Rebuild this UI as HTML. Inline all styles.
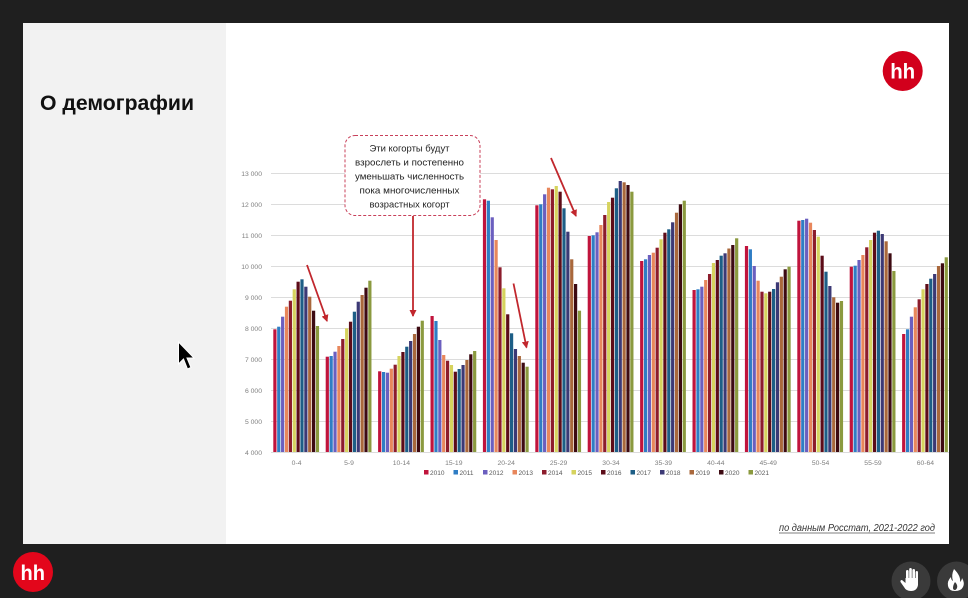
<!DOCTYPE html>
<html><head><meta charset="utf-8">
<style>
html,body{margin:0;padding:0;background:#1f1f1f;}
body{width:968px;height:598px;overflow:hidden;position:relative;font-family:"Liberation Sans","Noto Sans CJK SC",sans-serif;}
svg{position:absolute;left:0;top:0;}
.c0{fill:#c0143c}.c1{fill:#2f7dc4}.c2{fill:#6b5fbf}.c3{fill:#e8875c}.c4{fill:#8c1c2c}.c5{fill:#d6d35e}
.c6{fill:#5c0c18}.c7{fill:#1d5e86}.c8{fill:#3c3975}.c9{fill:#a9683c}.c10{fill:#3d0a12}.c11{fill:#8b9a3f}
.yl{font-size:6.8px;fill:#7f7f7f;text-anchor:end;font-family:"Liberation Sans",sans-serif}
.xl{font-size:6.8px;fill:#7f7f7f;text-anchor:middle;font-family:"Liberation Sans",sans-serif}
.lg{font-size:6.5px;fill:#595959;font-family:"Liberation Sans",sans-serif}
.co{font-size:9.5px;fill:#222;text-anchor:middle;font-family:"Liberation Sans",sans-serif}
</style></head>
<body>
<svg width="968" height="598" viewBox="0 0 968 598" xmlns="http://www.w3.org/2000/svg">
<defs>
<marker id="ah" markerWidth="7" markerHeight="7" refX="6" refY="3.5" orient="auto" markerUnits="userSpaceOnUse"><path d="M0,0 L7,3.5 L0,7 z" fill="#c1272d"/></marker>
<clipPath id="slide"><rect x="23" y="23" width="926" height="521"/></clipPath>
</defs>
<rect x="0" y="0" width="968" height="598" fill="#1f1f1f"/>
<rect x="23" y="23" width="926" height="521" fill="#ffffff"/>
<rect x="23" y="23" width="203" height="521" fill="#f2f2f2"/>

<text x="40" y="110" font-family="Liberation Sans,sans-serif" font-weight="bold" font-size="21" fill="#111" textLength="154" lengthAdjust="spacingAndGlyphs">О демографии</text>

<!-- gridlines -->
<g stroke="#dcdcdc" stroke-width="1">
<line x1="271" y1="173.5" x2="949" y2="173.5"/>
<line x1="271" y1="204.5" x2="949" y2="204.5"/>
<line x1="271" y1="235.5" x2="949" y2="235.5"/>
<line x1="271" y1="266.5" x2="949" y2="266.5"/>
<line x1="271" y1="297.5" x2="949" y2="297.5"/>
<line x1="271" y1="328.5" x2="949" y2="328.5"/>
<line x1="271" y1="359.5" x2="949" y2="359.5"/>
<line x1="271" y1="390.5" x2="949" y2="390.5"/>
<line x1="271" y1="421.5" x2="949" y2="421.5"/>
<line x1="271" y1="452.5" x2="949" y2="452.5"/>
</g>
<g>
<text class="yl" x="262" y="176">13 000</text>
<text class="yl" x="262" y="207">12 000</text>
<text class="yl" x="262" y="238">11 000</text>
<text class="yl" x="262" y="269">10 000</text>
<text class="yl" x="262" y="300">9 000</text>
<text class="yl" x="262" y="331">8 000</text>
<text class="yl" x="262" y="362">7 000</text>
<text class="yl" x="262" y="393">6 000</text>
<text class="yl" x="262" y="424">5 000</text>
<text class="yl" x="262" y="455">4 000</text>
</g>

<!-- bars -->
<g clip-path="url(#slide)">
<g transform="translate(0,452) scale(1,-1)">
<g transform="translate(273.3,0)">
<rect class="c0" x="0" y="0" width="3.2" height="122.7"/><rect class="c1" x="3.87" y="0" width="3.2" height="125.3"/><rect class="c2" x="7.74" y="0" width="3.2" height="135.3"/><rect class="c3" x="11.61" y="0" width="3.2" height="145.3"/><rect class="c4" x="15.48" y="0" width="3.2" height="151.3"/><rect class="c5" x="19.35" y="0" width="3.2" height="162.7"/><rect class="c6" x="23.22" y="0" width="3.2" height="170.3"/><rect class="c7" x="27.09" y="0" width="3.2" height="172.7"/><rect class="c8" x="30.96" y="0" width="3.2" height="165.3"/><rect class="c9" x="34.83" y="0" width="3.2" height="155.3"/><rect class="c10" x="38.7" y="0" width="3.2" height="141.3"/><rect class="c11" x="42.57" y="0" width="3.2" height="126"/>
</g>
<g transform="translate(325.7,0)">
<rect class="c0" x="0" y="0" width="3.2" height="95.3"/><rect class="c1" x="3.87" y="0" width="3.2" height="96"/><rect class="c2" x="7.74" y="0" width="3.2" height="100.3"/><rect class="c3" x="11.61" y="0" width="3.2" height="106"/><rect class="c4" x="15.48" y="0" width="3.2" height="113"/><rect class="c5" x="19.35" y="0" width="3.2" height="123.7"/><rect class="c6" x="23.22" y="0" width="3.2" height="130.3"/><rect class="c7" x="27.09" y="0" width="3.2" height="140.3"/><rect class="c8" x="30.96" y="0" width="3.2" height="150.3"/><rect class="c9" x="34.83" y="0" width="3.2" height="157"/><rect class="c10" x="38.7" y="0" width="3.2" height="164.3"/><rect class="c11" x="42.57" y="0" width="3.2" height="171.3"/>
</g>
<g transform="translate(378.1,0)">
<rect class="c0" x="0" y="0" width="3.2" height="80.7"/><rect class="c1" x="3.87" y="0" width="3.2" height="80"/><rect class="c2" x="7.74" y="0" width="3.2" height="79.3"/><rect class="c3" x="11.61" y="0" width="3.2" height="83.3"/><rect class="c4" x="15.48" y="0" width="3.2" height="87.3"/><rect class="c5" x="19.35" y="0" width="3.2" height="96"/><rect class="c6" x="23.22" y="0" width="3.2" height="100"/><rect class="c7" x="27.09" y="0" width="3.2" height="105.3"/><rect class="c8" x="30.96" y="0" width="3.2" height="111"/><rect class="c9" x="34.83" y="0" width="3.2" height="118"/><rect class="c10" x="38.7" y="0" width="3.2" height="125.3"/><rect class="c11" x="42.57" y="0" width="3.2" height="131.3"/>
</g>
<g transform="translate(430.5,0)">
<rect class="c0" x="0" y="0" width="3.2" height="136"/><rect class="c1" x="3.87" y="0" width="3.2" height="131"/><rect class="c2" x="7.74" y="0" width="3.2" height="112"/><rect class="c3" x="11.61" y="0" width="3.2" height="97"/><rect class="c4" x="15.48" y="0" width="3.2" height="91.3"/><rect class="c5" x="19.35" y="0" width="3.2" height="87"/><rect class="c6" x="23.22" y="0" width="3.2" height="80.3"/><rect class="c7" x="27.09" y="0" width="3.2" height="83"/><rect class="c8" x="30.96" y="0" width="3.2" height="87"/><rect class="c9" x="34.83" y="0" width="3.2" height="92"/><rect class="c10" x="38.7" y="0" width="3.2" height="97.7"/><rect class="c11" x="42.57" y="0" width="3.2" height="101"/>
</g>
<g transform="translate(482.9,0)">
<rect class="c0" x="0" y="0" width="3.2" height="252.7"/><rect class="c1" x="3.87" y="0" width="3.2" height="251.3"/><rect class="c2" x="7.74" y="0" width="3.2" height="234.7"/><rect class="c3" x="11.61" y="0" width="3.2" height="212"/><rect class="c4" x="15.48" y="0" width="3.2" height="184.7"/><rect class="c5" x="19.35" y="0" width="3.2" height="163.7"/><rect class="c6" x="23.22" y="0" width="3.2" height="137.7"/><rect class="c7" x="27.09" y="0" width="3.2" height="118.7"/><rect class="c8" x="30.96" y="0" width="3.2" height="103"/><rect class="c9" x="34.83" y="0" width="3.2" height="96"/><rect class="c10" x="38.7" y="0" width="3.2" height="89.3"/><rect class="c11" x="42.57" y="0" width="3.2" height="85.3"/>
</g>
<g transform="translate(535.3,0)">
<rect class="c0" x="0" y="0" width="3.2" height="246.7"/><rect class="c1" x="3.87" y="0" width="3.2" height="247.7"/><rect class="c2" x="7.74" y="0" width="3.2" height="257.7"/><rect class="c3" x="11.61" y="0" width="3.2" height="264.3"/><rect class="c4" x="15.48" y="0" width="3.2" height="262.7"/><rect class="c5" x="19.35" y="0" width="3.2" height="266"/><rect class="c6" x="23.22" y="0" width="3.2" height="260.3"/><rect class="c7" x="27.09" y="0" width="3.2" height="243.7"/><rect class="c8" x="30.96" y="0" width="3.2" height="220.3"/><rect class="c9" x="34.83" y="0" width="3.2" height="192.7"/><rect class="c10" x="38.7" y="0" width="3.2" height="168"/><rect class="c11" x="42.57" y="0" width="3.2" height="141.3"/>
</g>
<g transform="translate(587.7,0)">
<rect class="c0" x="0" y="0" width="3.2" height="216"/><rect class="c1" x="3.87" y="0" width="3.2" height="216.7"/><rect class="c2" x="7.74" y="0" width="3.2" height="219.7"/><rect class="c3" x="11.61" y="0" width="3.2" height="227"/><rect class="c4" x="15.48" y="0" width="3.2" height="237"/><rect class="c5" x="19.35" y="0" width="3.2" height="250"/><rect class="c6" x="23.22" y="0" width="3.2" height="254.3"/><rect class="c7" x="27.09" y="0" width="3.2" height="263.7"/><rect class="c8" x="30.96" y="0" width="3.2" height="271"/><rect class="c9" x="34.83" y="0" width="3.2" height="269.7"/><rect class="c10" x="38.7" y="0" width="3.2" height="267"/><rect class="c11" x="42.57" y="0" width="3.2" height="260.3"/>
</g>
<g transform="translate(640.1,0)">
<rect class="c0" x="0" y="0" width="3.2" height="191"/><rect class="c1" x="3.87" y="0" width="3.2" height="192.7"/><rect class="c2" x="7.74" y="0" width="3.2" height="197"/><rect class="c3" x="11.61" y="0" width="3.2" height="199.3"/><rect class="c4" x="15.48" y="0" width="3.2" height="204.3"/><rect class="c5" x="19.35" y="0" width="3.2" height="212.7"/><rect class="c6" x="23.22" y="0" width="3.2" height="219.3"/><rect class="c7" x="27.09" y="0" width="3.2" height="222.7"/><rect class="c8" x="30.96" y="0" width="3.2" height="229.7"/><rect class="c9" x="34.83" y="0" width="3.2" height="239.3"/><rect class="c10" x="38.7" y="0" width="3.2" height="247.7"/><rect class="c11" x="42.57" y="0" width="3.2" height="251.3"/>
</g>
<g transform="translate(692.5,0)">
<rect class="c0" x="0" y="0" width="3.2" height="162"/><rect class="c1" x="3.87" y="0" width="3.2" height="162.7"/><rect class="c2" x="7.74" y="0" width="3.2" height="165.3"/><rect class="c3" x="11.61" y="0" width="3.2" height="172"/><rect class="c4" x="15.48" y="0" width="3.2" height="178"/><rect class="c5" x="19.35" y="0" width="3.2" height="189"/><rect class="c6" x="23.22" y="0" width="3.2" height="192"/><rect class="c7" x="27.09" y="0" width="3.2" height="196.3"/><rect class="c8" x="30.96" y="0" width="3.2" height="198.7"/><rect class="c9" x="34.83" y="0" width="3.2" height="203.5"/><rect class="c10" x="38.7" y="0" width="3.2" height="207"/><rect class="c11" x="42.57" y="0" width="3.2" height="213.7"/>
</g>
<g transform="translate(744.9,0)">
<rect class="c0" x="0" y="0" width="3.2" height="206"/><rect class="c1" x="3.87" y="0" width="3.2" height="202.7"/><rect class="c2" x="7.74" y="0" width="3.2" height="186"/><rect class="c3" x="11.61" y="0" width="3.2" height="171.3"/><rect class="c4" x="15.48" y="0" width="3.2" height="160.3"/><rect class="c5" x="19.35" y="0" width="3.2" height="158.7"/><rect class="c6" x="23.22" y="0" width="3.2" height="160.3"/><rect class="c7" x="27.09" y="0" width="3.2" height="163"/><rect class="c8" x="30.96" y="0" width="3.2" height="169.7"/><rect class="c9" x="34.83" y="0" width="3.2" height="175.3"/><rect class="c10" x="38.7" y="0" width="3.2" height="182.7"/><rect class="c11" x="42.57" y="0" width="3.2" height="185.3"/>
</g>
<g transform="translate(797.3,0)">
<rect class="c0" x="0" y="0" width="3.2" height="231.3"/><rect class="c1" x="3.87" y="0" width="3.2" height="232"/><rect class="c2" x="7.74" y="0" width="3.2" height="233.3"/><rect class="c3" x="11.61" y="0" width="3.2" height="229.3"/><rect class="c4" x="15.48" y="0" width="3.2" height="222"/><rect class="c5" x="19.35" y="0" width="3.2" height="215.3"/><rect class="c6" x="23.22" y="0" width="3.2" height="196.3"/><rect class="c7" x="27.09" y="0" width="3.2" height="180.3"/><rect class="c8" x="30.96" y="0" width="3.2" height="166"/><rect class="c9" x="34.83" y="0" width="3.2" height="154.7"/><rect class="c10" x="38.7" y="0" width="3.2" height="149.3"/><rect class="c11" x="42.57" y="0" width="3.2" height="151"/>
</g>
<g transform="translate(849.7,0)">
<rect class="c0" x="0" y="0" width="3.2" height="185.3"/><rect class="c1" x="3.87" y="0" width="3.2" height="186.3"/><rect class="c2" x="7.74" y="0" width="3.2" height="192"/><rect class="c3" x="11.61" y="0" width="3.2" height="197"/><rect class="c4" x="15.48" y="0" width="3.2" height="204.7"/><rect class="c5" x="19.35" y="0" width="3.2" height="212"/><rect class="c6" x="23.22" y="0" width="3.2" height="219.3"/><rect class="c7" x="27.09" y="0" width="3.2" height="221.3"/><rect class="c8" x="30.96" y="0" width="3.2" height="218"/><rect class="c9" x="34.83" y="0" width="3.2" height="210.7"/><rect class="c10" x="38.7" y="0" width="3.2" height="198.7"/><rect class="c11" x="42.57" y="0" width="3.2" height="181"/>
</g>
<g transform="translate(902.1,0)">
<rect class="c0" x="0" y="0" width="3.2" height="118"/><rect class="c1" x="3.87" y="0" width="3.2" height="122.7"/><rect class="c2" x="7.74" y="0" width="3.2" height="135.3"/><rect class="c3" x="11.61" y="0" width="3.2" height="144.7"/><rect class="c4" x="15.48" y="0" width="3.2" height="152.7"/><rect class="c5" x="19.35" y="0" width="3.2" height="162.7"/><rect class="c6" x="23.22" y="0" width="3.2" height="168"/><rect class="c7" x="27.09" y="0" width="3.2" height="173.3"/><rect class="c8" x="30.96" y="0" width="3.2" height="178"/><rect class="c9" x="34.83" y="0" width="3.2" height="186"/><rect class="c10" x="38.7" y="0" width="3.2" height="188.7"/><rect class="c11" x="42.57" y="0" width="3.2" height="194.7"/>
</g>
</g>
</g>

<!-- x labels -->
<g>
<text class="xl" x="296.6" y="465">0-4</text>
<text class="xl" x="349" y="465">5-9</text>
<text class="xl" x="401.4" y="465">10-14</text>
<text class="xl" x="453.8" y="465">15-19</text>
<text class="xl" x="506.2" y="465">20-24</text>
<text class="xl" x="558.6" y="465">25-29</text>
<text class="xl" x="611" y="465">30-34</text>
<text class="xl" x="663.4" y="465">35-39</text>
<text class="xl" x="715.8" y="465">40-44</text>
<text class="xl" x="768.2" y="465">45-49</text>
<text class="xl" x="820.6" y="465">50-54</text>
<text class="xl" x="873" y="465">55-59</text>
<text class="xl" x="925.4" y="465">60-64</text>
</g>

<!-- legend -->
<g>
<rect class="c0" x="424" y="470" width="4.5" height="4.5"/><text class="lg" x="430" y="475">2010</text>
<rect class="c1" x="453.5" y="470" width="4.5" height="4.5"/><text class="lg" x="459.5" y="475">2011</text>
<rect class="c2" x="483" y="470" width="4.5" height="4.5"/><text class="lg" x="489" y="475">2012</text>
<rect class="c3" x="512.5" y="470" width="4.5" height="4.5"/><text class="lg" x="518.5" y="475">2013</text>
<rect class="c4" x="542" y="470" width="4.5" height="4.5"/><text class="lg" x="548" y="475">2014</text>
<rect class="c5" x="571.5" y="470" width="4.5" height="4.5"/><text class="lg" x="577.5" y="475">2015</text>
<rect class="c6" x="601" y="470" width="4.5" height="4.5"/><text class="lg" x="607" y="475">2016</text>
<rect class="c7" x="630.5" y="470" width="4.5" height="4.5"/><text class="lg" x="636.5" y="475">2017</text>
<rect class="c8" x="660" y="470" width="4.5" height="4.5"/><text class="lg" x="666" y="475">2018</text>
<rect class="c9" x="689.5" y="470" width="4.5" height="4.5"/><text class="lg" x="695.5" y="475">2019</text>
<rect class="c10" x="719" y="470" width="4.5" height="4.5"/><text class="lg" x="725" y="475">2020</text>
<rect class="c11" x="748.5" y="470" width="4.5" height="4.5"/><text class="lg" x="754.5" y="475">2021</text>
</g>

<!-- callout -->
<rect x="345" y="135.5" width="135" height="80" rx="10" ry="10" fill="#ffffff" stroke="#c8405a" stroke-width="1" stroke-dasharray="3,2"/>
<text class="co" x="409.5" y="151.5" textLength="80" lengthAdjust="spacingAndGlyphs">Эти когорты будут</text>
<text class="co" x="409.5" y="165.5" textLength="109" lengthAdjust="spacingAndGlyphs">взрослеть и постепенно</text>
<text class="co" x="409.5" y="179.5" textLength="109" lengthAdjust="spacingAndGlyphs">уменьшать численность</text>
<text class="co" x="409.5" y="193.5" textLength="100" lengthAdjust="spacingAndGlyphs">пока многочисленных</text>
<text class="co" x="409.5" y="207.5" textLength="80" lengthAdjust="spacingAndGlyphs">возрастных когорт</text>

<!-- arrows -->
<g stroke="#c1272d" stroke-width="1.8" fill="none">
<line x1="307" y1="265" x2="327" y2="321" marker-end="url(#ah)"/>
<line x1="413" y1="216" x2="413" y2="316" marker-end="url(#ah)"/>
<line x1="513.5" y1="283.5" x2="526.5" y2="347.5" marker-end="url(#ah)"/>
<line x1="551" y1="158" x2="576" y2="216" marker-end="url(#ah)"/>
</g>

<!-- top-right logo -->
<circle cx="902.7" cy="71" r="20" fill="#d2001c"/>
<text x="890.2" y="78.5" font-family="Liberation Sans,sans-serif" font-weight="bold" font-size="21" fill="#ffffff" textLength="25" lengthAdjust="spacingAndGlyphs">hh</text>

<!-- footer -->
<text x="779" y="531" font-family="Liberation Sans,sans-serif" font-style="italic" font-size="10" fill="#333" textLength="156" lengthAdjust="spacingAndGlyphs">по данным Росстат, 2021-2022 год</text>
<line x1="779" y1="533" x2="935" y2="533" stroke="#555" stroke-width="0.7"/>

<!-- cursor -->
<path d="M178.5,342 L178.5,364 L183.5,359 L187.5,369 L191,367.5 L187,358 L194,358 Z" fill="#000" stroke="#fff" stroke-width="1"/>

<!-- bottom-left logo -->
<circle cx="33" cy="572" r="20" fill="#e3061b"/>
<text x="20.5" y="580" font-family="Liberation Sans,sans-serif" font-weight="bold" font-size="21" fill="#ffffff" textLength="24.5" lengthAdjust="spacingAndGlyphs">hh</text>

<!-- bottom-right buttons -->
<circle cx="911" cy="581" r="19.5" fill="#3a3a3a"/>
<g fill="#fff">
<rect x="906" y="570" width="2.6" height="11" rx="1.3"/>
<rect x="909.2" y="568" width="2.6" height="12" rx="1.3"/>
<rect x="912.4" y="569" width="2.6" height="11" rx="1.3"/>
<rect x="915.6" y="571" width="2.4" height="10" rx="1.2"/>
<path d="M905.5,578 L918,578 L918,585 Q917,591 911,591 Q906,591 904,587 L900.5,582 Q900,580 902,580 L905.5,583 Z"/>
</g>
<circle cx="956.5" cy="581" r="19.5" fill="#3a3a3a"/>
<path d="M954,569 Q961,576 960,582 Q962,580 962,578 Q965,583 963,587 Q961,591 955,591 Q949,591 948,586 Q947,581 951,577 Q951,580 953,581 Q951,575 954,569 Z" fill="#fff"/>
<path d="M955,582 Q958,585 957,588 Q956,590 955,590 Q953,590 953,588 Q953,585 955,582 Z" fill="#3a3a3a"/>
</svg>
</body></html>
